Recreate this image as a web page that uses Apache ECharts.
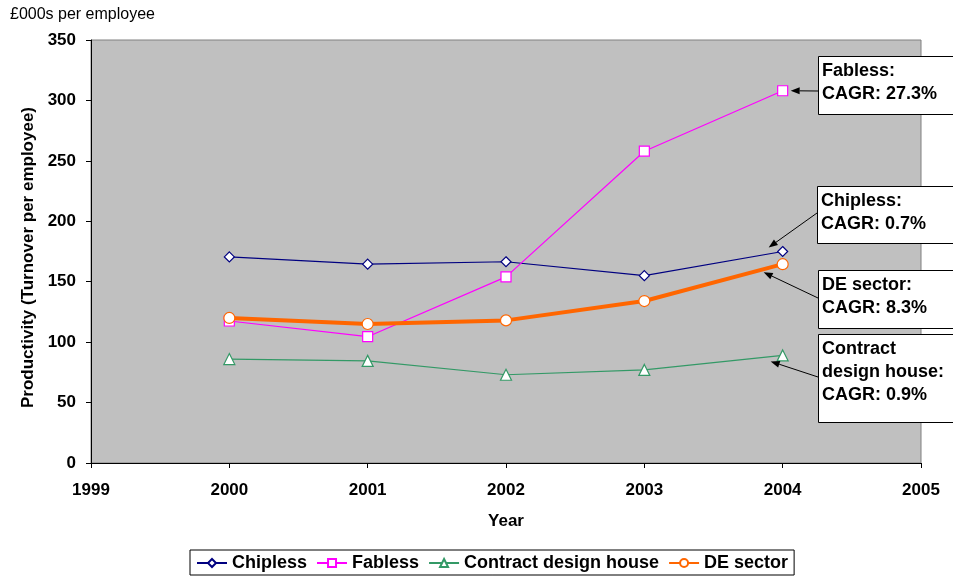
<!DOCTYPE html>
<html><head><meta charset="utf-8">
<script src="https://cdn.jsdelivr.net/npm/echarts@6/dist/echarts.min.js"></script>
<style>html,body{margin:0;padding:0;background:#fff}#c{width:953px;height:577px}</style>
</head><body><div id="c"></div>
<script>
const years = [2000, 2001, 2002, 2003, 2004];
const chipless = [170.5, 164.5, 166.5, 155, 175];
const fabless = [117.5, 104.5, 154, 258, 308];
const contractDesign = [86, 84.5, 73, 77, 89];
const deSector = [120, 115, 118, 134, 164.5];
const seriesNames = ['Chipless', 'Fabless', 'Contract design house', 'DE sector'];
const annotations = [
  {series: 'Fabless', lines: ['Fabless:', 'CAGR: 27.3%']},
  {series: 'Chipless', lines: ['Chipless:', 'CAGR: 0.7%']},
  {series: 'DE sector', lines: ['DE sector:', 'CAGR: 8.3%']},
  {series: 'Contract design house', lines: ['Contract', 'design house:', 'CAGR: 0.9%']}
];

const font = '"Liberation Sans", Arial, sans-serif';
const pair = arr => years.map((y, i) => [y, arr[i]]);
const chart = echarts.init(document.getElementById('c'), null, {renderer: 'canvas'});
const mk = (name, data, color, symbol, size, width) => ({
  name, type: 'line', data: pair(data), symbol, symbolSize: size, showSymbol: true,
  lineStyle: {color, width}, itemStyle: {color: '#fff', borderColor: color, borderWidth: 1.2},
  color, emphasis: {disabled: true}, z: name === 'DE sector' ? 3 : 2, animation: false
});
chart.setOption({
  animation: false,
  backgroundColor: '#fff',
  textStyle: {fontFamily: font},
  grid: {left: 91, right: 32, top: 40, bottom: 114, show: true, backgroundColor: '#C0C0C0', borderColor: '#808080', borderWidth: 1},
  xAxis: {
    type: 'value', min: 1999, max: 2005, interval: 1,
    name: 'Year', nameLocation: 'middle', nameGap: 50,
    nameTextStyle: {fontWeight: 'bold', fontSize: 17, color: '#000', fontFamily: font},
    axisLine: {lineStyle: {color: '#000', width: 1}},
    axisTick: {show: true, length: 5, lineStyle: {color: '#000'}},
    axisLabel: {fontWeight: 'bold', fontSize: 17, color: '#000', margin: 19, fontFamily: font, formatter: v => String(v)},
    splitLine: {show: false}
  },
  yAxis: {
    type: 'value', min: 0, max: 350, interval: 50,
    name: 'Productivity (Turnover per employee)', nameLocation: 'middle', nameGap: 47, nameRotate: 90,
    nameTextStyle: {fontWeight: 'bold', fontSize: 17, color: '#000', fontFamily: font, padding: [0, 12, 0, 0]},
    axisLine: {show: true, lineStyle: {color: '#000', width: 1}},
    axisTick: {show: true, length: 5, lineStyle: {color: '#000'}},
    axisLabel: {fontWeight: 'bold', fontSize: 17, color: '#000', margin: 15, fontFamily: font},
    splitLine: {show: false}
  },
  legend: {
    data: seriesNames, bottom: 2, left: 190,
    borderColor: '#000', borderWidth: 1, padding: [4, 6, 3, 6], itemGap: 9,
    itemWidth: 30, itemHeight: 10,
    textStyle: {fontWeight: 'bold', fontSize: 18, color: '#000', fontFamily: font}
  },
  series: [
    mk('Chipless', chipless, '#000080', 'diamond', 10, 1.2),
    mk('Fabless', fabless, '#FF00FF', 'rect', 10, 1.2),
    mk('Contract design house', contractDesign, '#339966', 'triangle', 11, 1.2),
    mk('DE sector', deSector, '#FF6600', 'circle', 11, 4)
  ]
});

// annotation boxes with arrows to the 2004 points
const boxes = [
  {x: 818, y: 56, h: 58, from: [818, 91], off: [8, 0]},
  {x: 817, y: 186, h: 57, from: [817, 213], off: [-14, -4]},
  {x: 818, y: 270, h: 58, from: [818, 298], off: [-19, 8]},
  {x: 818, y: 334, h: 88, from: [818, 377], off: [-12, 6]}
];
const seriesData = {'Chipless': chipless, 'Fabless': fabless, 'Contract design house': contractDesign, 'DE sector': deSector};
const g = [{type: 'text', left: 10, top: 7, style: {text: '£000s per employee', fontSize: 16, fontFamily: font, fill: '#000'}}];
annotations.forEach((a, i) => {
  const b = boxes[i];
  const vals = seriesData[a.series];
  const p = chart.convertToPixel({gridIndex: 0}, [years[years.length - 1], vals[vals.length - 1]]);
  const tx = p[0] + b.off[0], ty = p[1] + b.off[1];
  const fx = b.from[0], fy = b.from[1];
  const ang = Math.atan2(ty - fy, tx - fx);
  const ah = 9, aw = 3.5;
  const bx = tx - ah * Math.cos(ang), by = ty - ah * Math.sin(ang);
  g.push({type: 'line', shape: {x1: fx, y1: fy, x2: bx, y2: by}, style: {stroke: '#000', lineWidth: 1}, z: 10});
  g.push({type: 'polygon', shape: {points: [[tx, ty],
    [bx + aw * Math.sin(ang), by - aw * Math.cos(ang)],
    [bx - aw * Math.sin(ang), by + aw * Math.cos(ang)]]}, style: {fill: '#000'}, z: 10});
  g.push({type: 'rect', shape: {x: b.x + 0.5, y: b.y + 0.5, width: 160, height: b.h}, style: {fill: '#fff', stroke: '#000', lineWidth: 1}, z: 11});
  g.push({type: 'text', x: b.x + 4, y: b.y + 4, style: {text: a.lines.join('\n'), fontSize: 18, fontWeight: 'bold', fontFamily: font, fill: '#000', lineHeight: 23}, z: 12});
});
chart.setOption({graphic: g});
</script>
</body></html>
